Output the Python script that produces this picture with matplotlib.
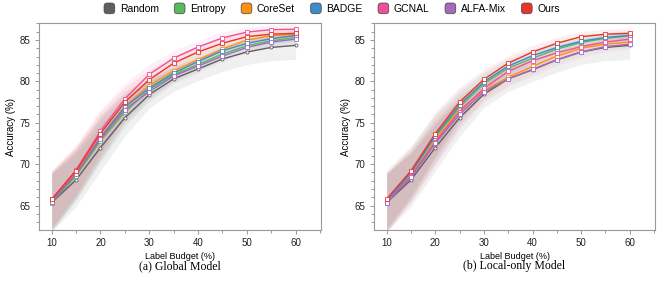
import numpy as np
import matplotlib.pyplot as plt
from matplotlib.patches import FancyBboxPatch, Patch
from matplotlib.legend_handler import HandlerPatch
from matplotlib.ticker import MultipleLocator

plt.rcParams['font.family'] = ['Liberation Sans', 'DejaVu Sans']

budget = [10, 15, 20, 25, 30, 35, 40, 45, 50, 55, 60]
methods = ['Random', 'Entropy', 'CoreSet', 'BADGE', 'GCNAL', 'ALFA-Mix', 'Ours']
colors = ['#5f5f5f', '#5cb85c', '#ff9010', '#3d8bc9', '#f0509a', '#a569bd', '#e8352b']

# global model accuracy (%)
glob_random = [65.35, 68.1, 72.0, 75.6, 78.4, 80.3, 81.5, 82.7, 83.55, 84.1, 84.35]
glob_entropy = [65.35, 68.6, 72.8, 76.3, 79.0, 80.8, 82.05, 83.3, 84.3, 84.9, 85.3]
glob_coreset = [65.5, 69.0, 73.3, 77.0, 79.5, 81.25, 82.6, 83.9, 85.0, 85.5, 85.7]
glob_badge = [65.5, 68.8, 73.2, 76.9, 79.2, 81.0, 82.4, 83.7, 84.6, 85.15, 85.55]
glob_gcnal = [65.75, 69.3, 74.0, 77.9, 80.85, 82.8, 84.15, 85.25, 85.95, 86.25, 86.3]
glob_alfamix = [65.45, 68.8, 73.0, 76.6, 78.75, 80.65, 81.85, 83.05, 84.1, 84.75, 85.1]
glob_ours = [65.75, 69.2, 73.7, 77.5, 80.2, 82.2, 83.55, 84.6, 85.4, 85.7, 85.8]

# local-only model accuracy (%)
loc_random = [65.35, 68.1, 72.0, 75.6, 78.45, 80.3, 81.4, 82.6, 83.55, 84.1, 84.35]
loc_entropy = [65.45, 68.9, 73.25, 76.9, 79.75, 81.6, 82.8, 83.9, 84.7, 85.2, 85.5]
loc_coreset = [65.45, 68.55, 72.9, 76.6, 78.9, 80.5, 81.8, 83.05, 84.0, 84.5, 84.75]
loc_badge = [65.55, 69.0, 73.45, 77.15, 79.95, 81.85, 83.1, 84.1, 84.85, 85.3, 85.55]
loc_gcnal = [65.35, 68.6, 72.7, 76.35, 79.15, 81.2, 82.5, 83.45, 84.2, 84.75, 85.1]
loc_alfamix = [65.35, 68.4, 72.5, 76.05, 78.75, 80.3, 81.45, 82.6, 83.55, 84.2, 84.5]
loc_ours = [65.8, 69.2, 73.7, 77.5, 80.25, 82.2, 83.55, 84.6, 85.4, 85.7, 85.8]

# spread (std) shown as shaded bands
std_random = [3.5, 3.2, 2.8, 2.2, 1.6, 1.5, 1.4, 1.5, 1.5, 1.6, 1.7]
std_other = [3.5, 3.0, 2.6, 1.8, 1.2, 0.9, 0.8, 0.7, 0.6, 0.6, 0.6]

glob = [glob_random, glob_entropy, glob_coreset, glob_badge, glob_gcnal, glob_alfamix, glob_ours]
loc = [loc_random, loc_entropy, loc_coreset, loc_badge, loc_gcnal, loc_alfamix, loc_ours]


class RoundBoxHandler(HandlerPatch):
    def create_artists(self, legend, orig_handle, xdescent, ydescent, width, height, fontsize, trans):
        s = min(width, height) * 1.15
        x0 = -xdescent + (width - s) / 2
        y0 = -ydescent + (height - s) / 2
        p = FancyBboxPatch((x0, y0), s, s, boxstyle='round,pad=0,rounding_size=%f' % (s * 0.3),
                           facecolor=orig_handle.get_facecolor(), edgecolor='#444444', linewidth=0.5,
                           transform=trans)
        return [p]


fig = plt.figure(figsize=(6.64, 2.83), dpi=100)
ax1 = fig.add_axes([0.0587, 0.1873, 0.4247, 0.7314])
ax2 = fig.add_axes([0.5633, 0.1873, 0.4232, 0.7314])

x = np.array(budget)
for ax, data, cap in [(ax1, glob, '(a) Global Model'), (ax2, loc, '(b) Local-only Model')]:
    for i, (m, c, y) in enumerate(zip(methods, colors, data)):
        y = np.array(y)
        sd = np.array(std_random if i == 0 else std_other)
        band_c = '#bbbbbb' if i == 0 else c
        ax.fill_between(x, y - sd, y + sd, color=band_c, alpha=0.22 if i == 0 else 0.08, lw=0)
    for i, (m, c, y) in enumerate(zip(methods, colors, data)):
        ax.plot(x, y, color=c, lw=1.0, marker='o' if i == 0 else 's', ms=2.2,
                mfc='white', mec=c, mew=0.6, zorder=3 + i)
    ax.set_xlim(7.4, 65.2)
    ax.set_ylim(62.05, 87.05)
    ax.set_xticks([10, 20, 30, 40, 50, 60])
    ax.xaxis.set_minor_locator(MultipleLocator(5))
    ax.set_yticks([65, 70, 75, 80, 85])
    ax.yaxis.set_minor_locator(MultipleLocator(1))
    for s in ax.spines.values():
        s.set_color('#999999')
        s.set_linewidth(0.8)
    ax.tick_params(which='both', colors='#888888', labelcolor='#222222', labelsize=7, width=0.6)
    ax.tick_params(which='major', length=3, pad=3)
    ax.tick_params(which='minor', length=2)
    ax.set_ylabel('Accuracy (%)', fontsize=7, labelpad=3)
    ax.set_xlabel('Label Budget (%)', fontsize=6.5, labelpad=3)
    ax.text(0.5, -0.175, cap, transform=ax.transAxes, ha='center', va='center',
            fontsize=8.5, family='Liberation Serif')

handles = [Patch(facecolor=c, label=m) for m, c in zip(methods, colors)]
fig.legend(handles=handles, loc='upper center', bbox_to_anchor=(0.5, 1.02), ncol=7, frameon=False,
           fontsize=7.5, handlelength=1.0, handleheight=1.0, handletextpad=0.5, columnspacing=1.5,
           handler_map={Patch: RoundBoxHandler()})

fig.savefig('out.png', dpi=100)
